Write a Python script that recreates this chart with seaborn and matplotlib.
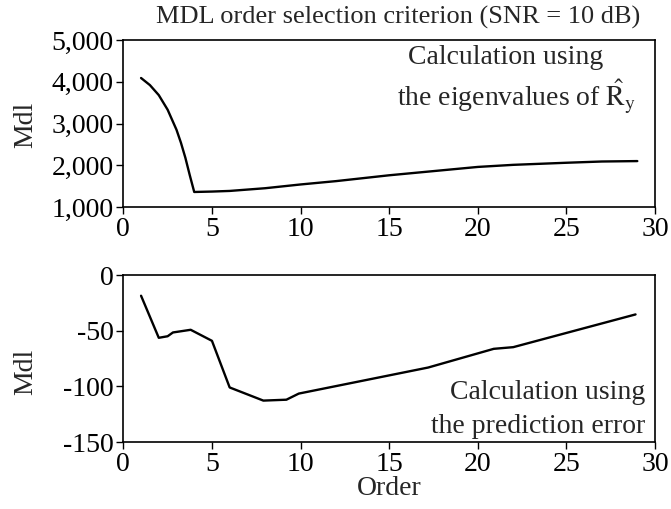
import matplotlib
matplotlib.use("Agg")
import matplotlib.pyplot as plt
import seaborn as sns
import pandas as pd
from matplotlib.ticker import FuncFormatter

# Data
order_top = [1, 1.5, 2, 2.5, 3, 3.25, 3.5, 3.75, 4, 5, 6, 8, 10, 12, 15, 18, 20, 22, 25, 27, 29]
mdl_top = [4090, 3920, 3680, 3330, 2850, 2540, 2180, 1760, 1360, 1370, 1385, 1450, 1540,
           1620, 1760, 1880, 1960, 2010, 2060, 2090, 2100]

order_bot = [1, 2, 2.5, 2.8, 3.8, 5, 6, 7.9, 9.2, 9.9, 17.2, 20.9, 22, 28.9]
mdl_bot = [-18.6, -56.4, -55, -51.6, -49.2, -59.1, -101, -112.8, -112, -106.5,
           -83.1, -66.3, -64.8, -35.4]

x_ticks = [0, 5, 10, 15, 20, 25, 30]
top_yticks = [1000, 2000, 3000, 4000, 5000]
bot_yticks = [-150, -100, -50, 0]

title = "MDL order selection criterion (SNR = 10 dB)"

sns.set_theme(style="ticks")
plt.rcParams["font.family"] = ["Liberation Serif", "DejaVu Serif"]
plt.rcParams["mathtext.fontset"] = "stix"
plt.rcParams["axes.unicode_minus"] = False
plt.rcParams["axes.edgecolor"] = "black"
plt.rcParams["xtick.color"] = "black"
plt.rcParams["ytick.color"] = "black"

fig = plt.figure(figsize=(6.71, 5.09), dpi=100)
ax1 = fig.add_axes([0.1838, 0.5933, 0.7924, 0.3281])
ax2 = fig.add_axes([0.1838, 0.1316, 0.7924, 0.3281])

df_top = pd.DataFrame({"Order": order_top, "Mdl": mdl_top})
df_bot = pd.DataFrame({"Order": order_bot, "Mdl": mdl_bot})

sns.lineplot(data=df_top, x="Order", y="Mdl", ax=ax1, color="black", linewidth=1.7)
sns.lineplot(data=df_bot, x="Order", y="Mdl", ax=ax2, color="black", linewidth=1.7)

fs = 20
for ax in (ax1, ax2):
    ax.set_xlim(0, 30)
    ax.set_xticks(x_ticks)
    ax.tick_params(labelsize=fs, length=5, width=1, colors="black")
    ax.tick_params(axis="x", pad=2)
    ax.tick_params(axis="y", pad=2)
    for s in ax.spines.values():
        s.set_linewidth(1.2)
        s.set_color("black")
    ax.set_ylabel("Mdl", fontsize=fs)

ax1.set_ylim(1000, 5000)
ax1.set_yticks(top_yticks)
ax1.yaxis.set_major_formatter(FuncFormatter(lambda v, p: f"{int(v):,}"))
ax1.set_xlabel("")
ax1.yaxis.set_label_coords(-0.16, 0.49)
ax1.set_title(title, fontsize=19, x=0.516, y=1.10, pad=0)

ax2.set_ylim(-150, 0)
ax2.set_yticks(bot_yticks)
ax2.set_xlabel("Order", fontsize=fs)
ax2.xaxis.set_label_coords(0.5, -0.205)
ax2.yaxis.set_label_coords(-0.16, 0.42)

ax1.text(0.5355, 0.855, "Calculation using", transform=ax1.transAxes,
         ha="left", va="baseline", fontsize=fs)
ax1.text(0.5147, 0.6, "the eigenvalues of $\\hat{\\mathrm{R}}_{\\mathrm{y}}$",
         transform=ax1.transAxes, ha="left", va="baseline", fontsize=fs)
ax2.text(0.981, 0.26, "Calculation using", transform=ax2.transAxes,
         ha="right", va="baseline", fontsize=fs)
ax2.text(0.981, 0.052, "the prediction error", transform=ax2.transAxes,
         ha="right", va="baseline", fontsize=fs)

fig.savefig("out.png", dpi=100)
